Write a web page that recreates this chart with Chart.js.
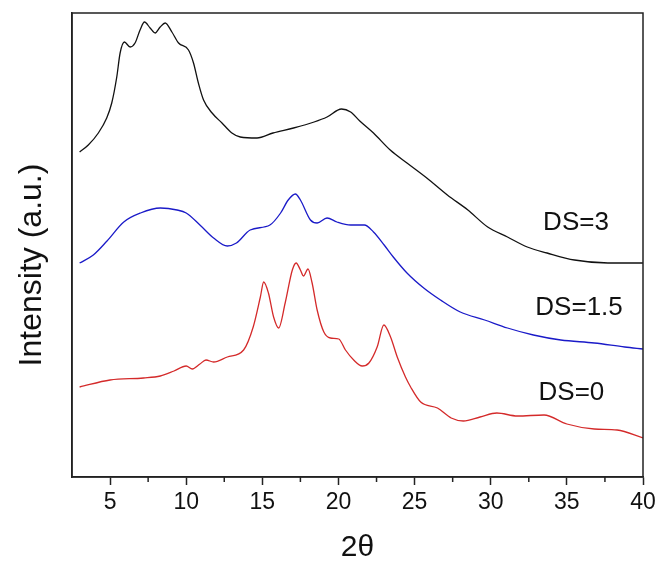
<!DOCTYPE html>
<html>
<head>
<meta charset="utf-8">
<script src="https://cdn.jsdelivr.net/npm/chart.js@4/dist/chart.umd.min.js"></script>
<style>
html,body{margin:0;padding:0;background:#fff;}
#wrap{width:660px;height:563px;}
</style>
</head>
<body>
<div id="wrap"><canvas id="c" width="660" height="563"></canvas></div>
<script>
// ---- data (2θ vs intensity, arbitrary units, offset curves) ----
const ds3Theta = [3.0,3.57,4.23,4.78,5.11,5.44,5.66,5.94,6.32,6.64,6.97,7.26,7.63,7.96,8.29,8.62,9.06,9.5,10.15,10.48,10.8,11.14,11.7,12.35,13.0,13.55,14.65,15.7,17.05,18.4,19.25,20.2,20.8,21.4,22.3,23.4,24.5,25.8,27.15,28.5,29.8,31.1,32.4,33.7,35.5,37.7,40.0];
const ds3Intensity = [325,332,344,359,374,400,424,435,430,434,447,455,449,444,450,454,445,434,427,414,394,377,364,354,344,340,339,344,349,355,360,368,365,356,344,327,314,299,282,267,250,240,230,224,217,214,214];

const ds15Theta = [3.0,3.9,4.8,5.9,7.0,8.3,9.4,10.0,10.9,11.8,12.7,13.3,14.2,15.5,16.2,16.7,17.17,17.5,18.16,18.6,19.25,19.9,20.8,21.7,22.3,23.0,23.6,24.5,25.6,26.7,28.0,29.6,31.1,32.8,34.6,36.8,38.8,40.0];
const ds15Intensity = [214,222,236,255,264,269,267,264,252,239,231,234,247,252,264,277,283,277,257,254,259,255,252,252,245,232,220,204,189,177,165,157,149,142,137,134,130,128];

const ds0Theta = [3.0,5.0,7.2,8.3,9.2,10.0,10.4,10.9,11.3,11.8,12.7,13.77,14.4,14.87,15.09,15.4,15.74,16.07,16.5,16.97,17.22,17.5,17.7,18.0,18.27,18.6,19.04,19.47,20.02,20.46,21.0,21.56,22.0,22.54,22.98,23.42,23.86,24.4,24.74,25.4,26.5,27.4,28.2,29.3,30.4,31.75,33.5,35.0,36.8,38.3,40.0];
const ds0Intensity = [90,97,99,101,106,111,108,113,117,115,120,127,150,180,195,184,160,149,174,207,214,207,201,208,194,167,145,139,138,127,117,111,114,130,152,140,120,100,90,75,69,59,56,60,64,61,62,53,48,47,39];

const seriesLabels = ['DS=3','DS=1.5','DS=0'];
const labelTheta = [35.6, 35.8, 35.3];
const labelIntensity = [254, 169, 84];

const majorTicks = [5,10,15,20,25,30,35,40];
const minorTicks = [7.5,12.5,17.5,22.5,27.5,32.5,37.5];
const xMin = 2.5, xMax = 40;
const yMin = 0, yMax = 464;

const FONT = '"Liberation Sans", Arial, Helvetica, sans-serif';

function pts(xs, ys){ return xs.map((x,i)=>({x:x, y:ys[i]})); }

const decor = {
  id:'decor',
  afterDraw(chart){
    const ctx = chart.ctx, a = chart.chartArea;
    const xs = chart.scales.x, ys = chart.scales.y;
    ctx.save();
    ctx.strokeStyle = '#222';
    ctx.lineWidth = 1.5;
    ctx.strokeRect(a.left, a.top, a.right - a.left, a.bottom - a.top);
    minorTicks.forEach(v=>{
      const px = xs.getPixelForValue(v);
      ctx.beginPath(); ctx.moveTo(px, a.bottom); ctx.lineTo(px, a.bottom + 5); ctx.stroke();
    });
    ctx.fillStyle = '#111';
    ctx.font = '26px ' + FONT;
    ctx.textAlign = 'center';
    ctx.textBaseline = 'middle';
    seriesLabels.forEach((t,i)=>{
      ctx.fillText(t, xs.getPixelForValue(labelTheta[i]), ys.getPixelForValue(labelIntensity[i]));
    });
    ctx.translate(32, (a.top + a.bottom)/2 + 20);
    ctx.rotate(-Math.PI/2);
    ctx.font = '32px ' + FONT;
    ctx.fillText('Intensity (a.u.)', 0, 0);
    ctx.restore();
  }
};

new Chart(document.getElementById('c'), {
  type:'line',
  data:{
    datasets:[
      {label:seriesLabels[0], data:pts(ds3Theta, ds3Intensity), borderColor:'#111111', borderWidth:1.3, pointRadius:0, cubicInterpolationMode:'monotone', fill:false},
      {label:seriesLabels[1], data:pts(ds15Theta, ds15Intensity), borderColor:'#1a1ac8', borderWidth:1.3, pointRadius:0, cubicInterpolationMode:'monotone', fill:false},
      {label:seriesLabels[2], data:pts(ds0Theta, ds0Intensity), borderColor:'#d42a2a', borderWidth:1.3, pointRadius:0, cubicInterpolationMode:'monotone', fill:false}
    ]
  },
  options:{
    responsive:false,
    animation:false,
    devicePixelRatio:1,
    layout:{padding:{top:13, right:17, left:0, bottom:0}},
    plugins:{legend:{display:false}, tooltip:{enabled:false}},
    scales:{
      x:{
        type:'linear', position:'bottom', min:xMin, max:xMax,
        afterBuildTicks:(s)=>{ s.ticks = majorTicks.map(v=>({value:v})); },
        afterFit:(s)=>{ s.height = 86; },
        grid:{display:true, drawOnChartArea:false, drawTicks:true, tickLength:8, tickColor:'#222', tickWidth:1.5},
        border:{display:true, color:'#222', width:1.5},
        ticks:{font:{family:FONT, size:23}, color:'#111', padding:4, maxRotation:0, autoSkip:false},
        title:{display:true, text:'2θ', font:{family:FONT, size:30, lineHeight:1}, color:'#111', padding:{top:0, bottom:0}}
      },
      y:{
        type:'linear', position:'left', min:yMin, max:yMax,
        afterFit:(s)=>{ s.width = 72; },
        grid:{display:false},
        border:{display:true, color:'#222', width:1.5},
        ticks:{display:false}
      }
    }
  },
  plugins:[decor]
});
</script>
</body>
</html>
